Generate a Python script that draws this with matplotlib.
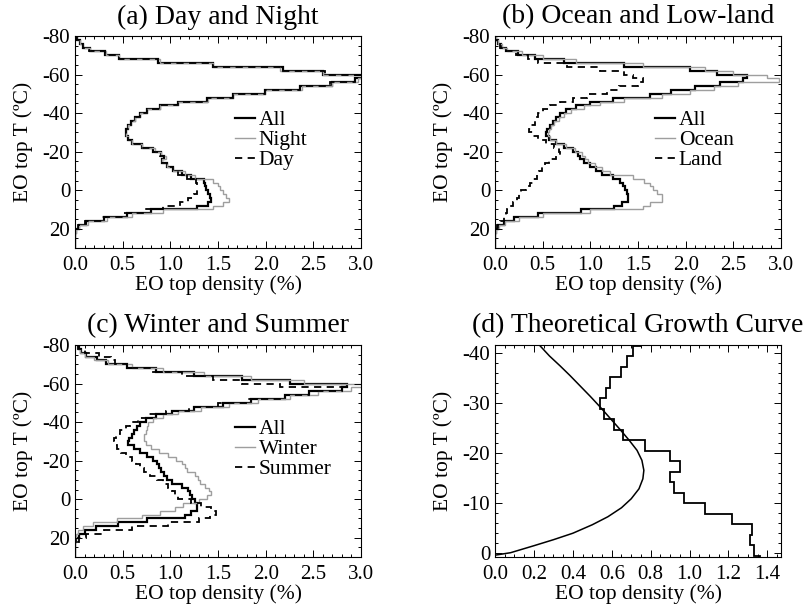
import numpy as np
import matplotlib
matplotlib.use('Agg')
import matplotlib.pyplot as plt
from matplotlib.ticker import MultipleLocator, FormatStrFormatter

plt.rcParams['font.family'] = ['Liberation Serif', 'DejaVu Serif']
plt.rcParams['axes.unicode_minus'] = False

# 2 degC bins from -80 to 30 (panels a-c)
t_edges = np.arange(-80, 32, 2)

# (a) Day and Night
a_all = [0.02, 0.05, 0.08, 0.16, 0.31, 0.46, 0.87, 1.45, 2.18, 2.60,
         3.05, 2.94, 2.70, 2.36, 1.99, 1.66, 1.38, 1.08, 0.89, 0.76,
         0.68, 0.63, 0.59, 0.56, 0.54, 0.53, 0.56, 0.60, 0.70, 0.82,
         0.90, 0.93, 0.91, 0.96, 1.03, 1.12, 1.22, 1.35, 1.36, 1.37,
         1.39, 1.42, 1.43, 1.40, 1.28, 0.80, 0.55, 0.30, 0.12, 0.04,
         0.01, 0.0, 0.0, 0.0, 0.0]
a_night = [0.02, 0.05, 0.08, 0.16, 0.33, 0.46, 0.89, 1.45, 2.15, 2.60,
           3.05, 2.97, 2.70, 2.38, 1.99, 1.66, 1.40, 1.08, 0.89, 0.76,
           0.68, 0.63, 0.59, 0.56, 0.54, 0.53, 0.56, 0.60, 0.70, 0.84,
           0.90, 0.95, 0.91, 0.96, 1.03, 1.15, 1.26, 1.45, 1.50, 1.52,
           1.55, 1.58, 1.62, 1.55, 1.45, 0.92, 0.60, 0.34, 0.14, 0.04,
           0.01, 0.0, 0.0, 0.0, 0.0]
a_day = [0.02, 0.05, 0.08, 0.15, 0.31, 0.46, 0.87, 1.45, 2.18, 2.62,
         3.05, 2.94, 2.68, 2.36, 1.99, 1.66, 1.38, 1.08, 0.89, 0.75,
         0.68, 0.63, 0.59, 0.56, 0.54, 0.53, 0.56, 0.60, 0.70, 0.82,
         0.89, 0.93, 0.91, 0.96, 1.03, 1.08, 1.18, 1.27, 1.28, 1.28,
         1.28, 1.25, 1.19, 1.10, 0.92, 0.72, 0.50, 0.28, 0.10, 0.03,
         0.01, 0.0, 0.0, 0.0, 0.0]

# (b) Ocean and Low-land
b_all = [0.01, 0.03, 0.06, 0.12, 0.24, 0.42, 0.72, 1.35, 2.05, 2.33,
         2.64, 2.60, 2.36, 2.10, 1.85, 1.63, 1.24, 1.00, 0.85, 0.74,
         0.68, 0.64, 0.61, 0.58, 0.55, 0.54, 0.57, 0.64, 0.72, 0.82,
         0.87, 0.89, 0.93, 1.00, 1.06, 1.12, 1.24, 1.31, 1.34, 1.36,
         1.38, 1.40, 1.39, 1.33, 1.25, 0.90, 0.45, 0.20, 0.09, 0.03,
         0.01, 0.0, 0.0, 0.0, 0.0]
b_ocean = [0.01, 0.03, 0.07, 0.13, 0.28, 0.50, 0.85, 1.55, 2.20, 2.50,
           2.85, 2.98, 2.55, 2.30, 2.05, 1.75, 1.35, 1.10, 0.93, 0.80,
           0.72, 0.67, 0.62, 0.59, 0.57, 0.56, 0.58, 0.64, 0.74, 0.84,
           0.91, 0.94, 0.98, 1.05, 1.12, 1.21, 1.45, 1.56, 1.63, 1.66,
           1.70, 1.75, 1.75, 1.63, 1.55, 1.00, 0.50, 0.25, 0.10, 0.04,
           0.01, 0.0, 0.0, 0.0, 0.0]
b_land = [0.0, 0.02, 0.05, 0.12, 0.22, 0.35, 0.45, 0.75, 1.10, 1.35,
          1.45, 1.55, 1.50, 1.30, 1.17, 0.96, 0.82, 0.68, 0.58, 0.50,
          0.45, 0.42, 0.42, 0.38, 0.36, 0.40, 0.45, 0.53, 0.62, 0.67,
          0.68, 0.64, 0.57, 0.52, 0.49, 0.46, 0.44, 0.40, 0.37, 0.32,
          0.27, 0.25, 0.23, 0.19, 0.16, 0.13, 0.11, 0.09, 0.05, 0.02,
          0.0, 0.0, 0.0, 0.0, 0.0]

# (c) Winter and Summer
c_all = [0.04, 0.06, 0.12, 0.23, 0.33, 0.55, 0.85, 1.25, 1.75, 2.25,
         2.85, 2.80, 2.45, 2.20, 1.85, 1.55, 1.25, 1.02, 0.85, 0.74,
         0.68, 0.65, 0.62, 0.60, 0.57, 0.56, 0.62, 0.68, 0.75, 0.82,
         0.86, 0.88, 0.90, 0.93, 0.96, 1.02, 1.12, 1.19, 1.21, 1.23,
         1.26, 1.28, 1.28, 1.22, 1.15, 0.75, 0.45, 0.22, 0.10, 0.04,
         0.01, 0.0, 0.0, 0.0, 0.0]
c_winter = [0.02, 0.05, 0.10, 0.20, 0.35, 0.60, 0.92, 1.35, 1.85, 2.40,
            3.05, 2.90, 2.55, 2.25, 1.92, 1.62, 1.32, 1.08, 0.92, 0.82,
            0.77, 0.75, 0.74, 0.72, 0.72, 0.74, 0.80, 0.88, 0.98, 1.06,
            1.12, 1.15, 1.18, 1.26, 1.29, 1.31, 1.36, 1.41, 1.43, 1.38,
            1.30, 1.13, 1.05, 0.89, 0.70, 0.44, 0.19, 0.08, 0.03, 0.01,
            0.0, 0.0, 0.0, 0.0, 0.0]
c_summer = [0.03, 0.10, 0.25, 0.38, 0.42, 0.55, 0.80, 1.12, 1.45, 1.75,
            2.15, 2.80, 2.45, 2.20, 1.80, 1.50, 1.20, 0.95, 0.78, 0.66,
            0.58, 0.53, 0.47, 0.43, 0.41, 0.42, 0.44, 0.48, 0.54, 0.60,
            0.64, 0.68, 0.72, 0.79, 0.86, 0.92, 0.98, 1.02, 1.05, 1.08,
            1.22, 1.32, 1.43, 1.48, 1.42, 1.30, 0.98, 0.60, 0.30, 0.12,
            0.04, 0.01, 0.0, 0.0, 0.0]

# (d) Theoretical growth curve, histogram bins ~2.1 degC
d_edges = [-43.5, -41.4, -39.3, -37.2, -35.1, -33.0, -30.9, -28.8, -26.7,
           -24.6, -22.5, -20.4, -18.3, -16.2, -14.1, -12.0, -9.9, -7.8,
           -5.7, -3.6, -1.5, 0.6, 2.7]
d_hist = [0.75, 0.71, 0.68, 0.65, 0.59, 0.57, 0.54, 0.56, 0.61, 0.66,
          0.77, 0.90, 0.95, 0.90, 0.92, 0.97, 1.08, 1.22, 1.32, 1.31,
          1.33, 1.36]
curve_x = [0.0, 0.08, 0.20, 0.30, 0.40, 0.50, 0.58, 0.65, 0.70, 0.74,
           0.76, 0.765, 0.755, 0.73, 0.69, 0.64, 0.59, 0.54, 0.49, 0.44,
           0.385, 0.335, 0.28, 0.23]
curve_t = [0.5, 0.0, -1.4, -2.6, -3.9, -5.6, -7.2, -9.0, -10.8, -12.8,
           -14.8, -16.5, -18.5, -20.5, -22.5, -24.8, -27.0, -29.2, -31.3,
           -33.3, -35.5, -37.4, -39.4, -41.5]

panels = [
    ('(a) Day and Night', a_all, a_night, a_day, ['All', 'Night', 'Day']),
    ('(b) Ocean and Low-land', b_all, b_ocean, b_land, ['All', 'Ocean', 'Land']),
    ('(c) Winter and Summer', c_all, c_winter, c_summer, ['All', 'Winter', 'Summer']),
]
rects = [[0.0933, 0.5934, 0.3557, 0.3475],
         [0.6157, 0.5934, 0.3557, 0.3475],
         [0.0933, 0.0869, 0.3557, 0.3475],
         [0.6157, 0.0869, 0.3557, 0.3475]]

fig = plt.figure(figsize=(8.04, 6.10), dpi=100)


def style_axis(ax):
    ax.tick_params(which='both', direction='in', top=True, right=True,
                   labelsize=15, width=0.7, colors='black')
    ax.tick_params(which='major', length=5)
    ax.tick_params(which='minor', length=2.5)
    ax.tick_params(axis='x', which='major', pad=6)
    for s in ax.spines.values():
        s.set_linewidth(0.8)
    ax.set_xlabel('EO top density (%)', fontsize=15.5, labelpad=0)
    ax.set_ylabel('EO top T (ºC)', fontsize=15.5, labelpad=7)


for i, (title, v_all, v_gray, v_dash, names) in enumerate(panels):
    ax = fig.add_axes(rects[i])
    ax.stairs(v_all, t_edges, orientation='horizontal', baseline=None,
              color='black', lw=1.6, label=names[0])
    ax.stairs(v_gray, t_edges, orientation='horizontal', baseline=None,
              color='0.62', lw=1.0, label=names[1])
    ax.stairs(v_dash, t_edges, orientation='horizontal', baseline=None,
              color='black', lw=1.3, ls=(0, (4, 3)), label=names[2])
    ax.set_xlim(0, 3.0)
    ax.set_ylim(30, -80)
    ax.xaxis.set_major_locator(MultipleLocator(0.5))
    ax.xaxis.set_minor_locator(MultipleLocator(0.1))
    ax.xaxis.set_major_formatter(FormatStrFormatter('%.1f'))
    ax.yaxis.set_major_locator(MultipleLocator(20))
    ax.yaxis.set_minor_locator(MultipleLocator(5))
    style_axis(ax)
    ax.set_title(title, fontsize=20, pad=9)
    ax.legend(loc='upper left', bbox_to_anchor=(0.56, 0.65), frameon=False,
              fontsize=15.5, handlelength=0.9, handletextpad=0.2,
              labelspacing=0.0, borderaxespad=0, borderpad=0)

# (d)
ax = fig.add_axes(rects[3])
ax.stairs(d_hist, d_edges, orientation='horizontal', baseline=None,
          color='black', lw=1.3)
ax.plot(curve_x, curve_t, color='black', lw=1.1)
ax.set_xlim(0, 1.47)
ax.set_ylim(0.86, -41.6)
ax.xaxis.set_major_locator(MultipleLocator(0.2))
ax.xaxis.set_minor_locator(MultipleLocator(0.05))
ax.xaxis.set_major_formatter(FormatStrFormatter('%.1f'))
ax.yaxis.set_major_locator(MultipleLocator(10))
ax.yaxis.set_minor_locator(MultipleLocator(2))
style_axis(ax)
ax.set_title('(d) Theoretical Growth Curve', fontsize=20, pad=9)

plt.savefig('out.png', dpi=100)
